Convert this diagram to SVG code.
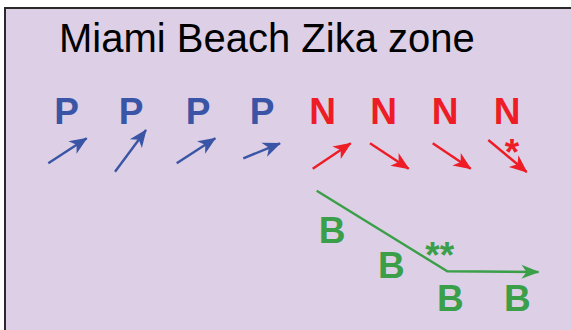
<svg xmlns="http://www.w3.org/2000/svg" width="571" height="330" viewBox="0 0 571 330">
  <defs>
    <style>
      .title{font-family:"Liberation Sans",Arial,sans-serif;font-size:40px;fill:#000}
      .lbl{font-family:"Liberation Sans",Arial,sans-serif;font-size:37px;font-weight:bold;text-anchor:middle}
      .p{fill:#3a55a5}
      .n{fill:#ee1c25}
      .b{fill:#3a9f48}
      .ab{stroke:#3a55a5;stroke-width:2.4;fill:none;marker-end:url(#mb)}
      .ar{stroke:#ee1c25;stroke-width:2.4;fill:none;marker-end:url(#mr)}
      .ag{stroke:#3a9f48;stroke-width:2.4;fill:none;marker-end:url(#mg)}
    </style>
    <marker id="mb" markerUnits="userSpaceOnUse" viewBox="0 0 18 15" markerWidth="18" markerHeight="15" refX="17" refY="7.5" orient="auto" overflow="visible">
      <path d="M0,0 L18,7.5 L0,15 L5,7.5 z" fill="#3a55a5"/>
    </marker>
    <marker id="mr" markerUnits="userSpaceOnUse" viewBox="0 0 18 15" markerWidth="18" markerHeight="15" refX="17" refY="7.5" orient="auto" overflow="visible">
      <path d="M0,0 L18,7.5 L0,15 L5,7.5 z" fill="#ee1c25"/>
    </marker>
    <marker id="mg" markerUnits="userSpaceOnUse" viewBox="0 0 18 14" markerWidth="18" markerHeight="14" refX="17" refY="7" orient="auto" overflow="visible">
      <path d="M0,0 L18,7 L0,14 L5,7 z" fill="#3a9f48"/>
    </marker>
  </defs>
  <rect x="0" y="0" width="571" height="330" fill="#ffffff"/>
  <rect x="5" y="8" width="580" height="340" fill="#ddd0e6" stroke="#2a2a2a" stroke-width="2"/>
  <g id="title"><text class="title" x="59" y="52">Miami Beach Zika zone</text></g>
  <g id="P1"><text class="lbl p" x="66.5" y="124">P</text></g>
  <g id="P2"><text class="lbl p" x="131" y="124">P</text></g>
  <g id="P3"><text class="lbl p" x="198" y="124">P</text></g>
  <g id="P4"><text class="lbl p" x="262" y="124">P</text></g>
  <g id="N1"><text class="lbl n" x="322.5" y="124">N</text></g>
  <g id="N2"><text class="lbl n" x="383.7" y="124">N</text></g>
  <g id="N3"><text class="lbl n" x="445" y="124">N</text></g>
  <g id="N4"><text class="lbl n" x="507" y="124">N</text></g>
  <g id="star1"><text class="lbl n" x="512" y="164.5">*</text></g>
  <g id="B1"><text class="lbl b" x="332" y="243.3">B</text></g>
  <g id="B2"><text class="lbl b" x="391.3" y="278.3">B</text></g>
  <g id="B3"><text class="lbl b" x="450.3" y="310.7">B</text></g>
  <g id="B4"><text class="lbl b" x="517.3" y="310.7">B</text></g>
  <g id="star2"><text class="lbl b" x="439.7" y="268">**</text></g>
  <g id="connectors">
    <path class="ab" d="M48.3,163.3 L86.7,138.3"/>
    <path class="ab" d="M115,171.7 L146,130"/>
    <path class="ab" d="M176.7,163.3 L215.3,138.3"/>
    <path class="ab" d="M243.3,158.3 L280,143.3"/>
    <path class="ar" d="M312.7,168.7 L350.7,143.3"/>
    <path class="ar" d="M370,143.3 L408.7,168.7"/>
    <path class="ar" d="M432.7,143.3 L470.7,168.7"/>
    <path class="ar" d="M488.3,140 L526.7,172"/>
    <path class="ag" d="M316.7,190.7 L447.3,271.3 L538.5,272"/>
  </g>
</svg>
